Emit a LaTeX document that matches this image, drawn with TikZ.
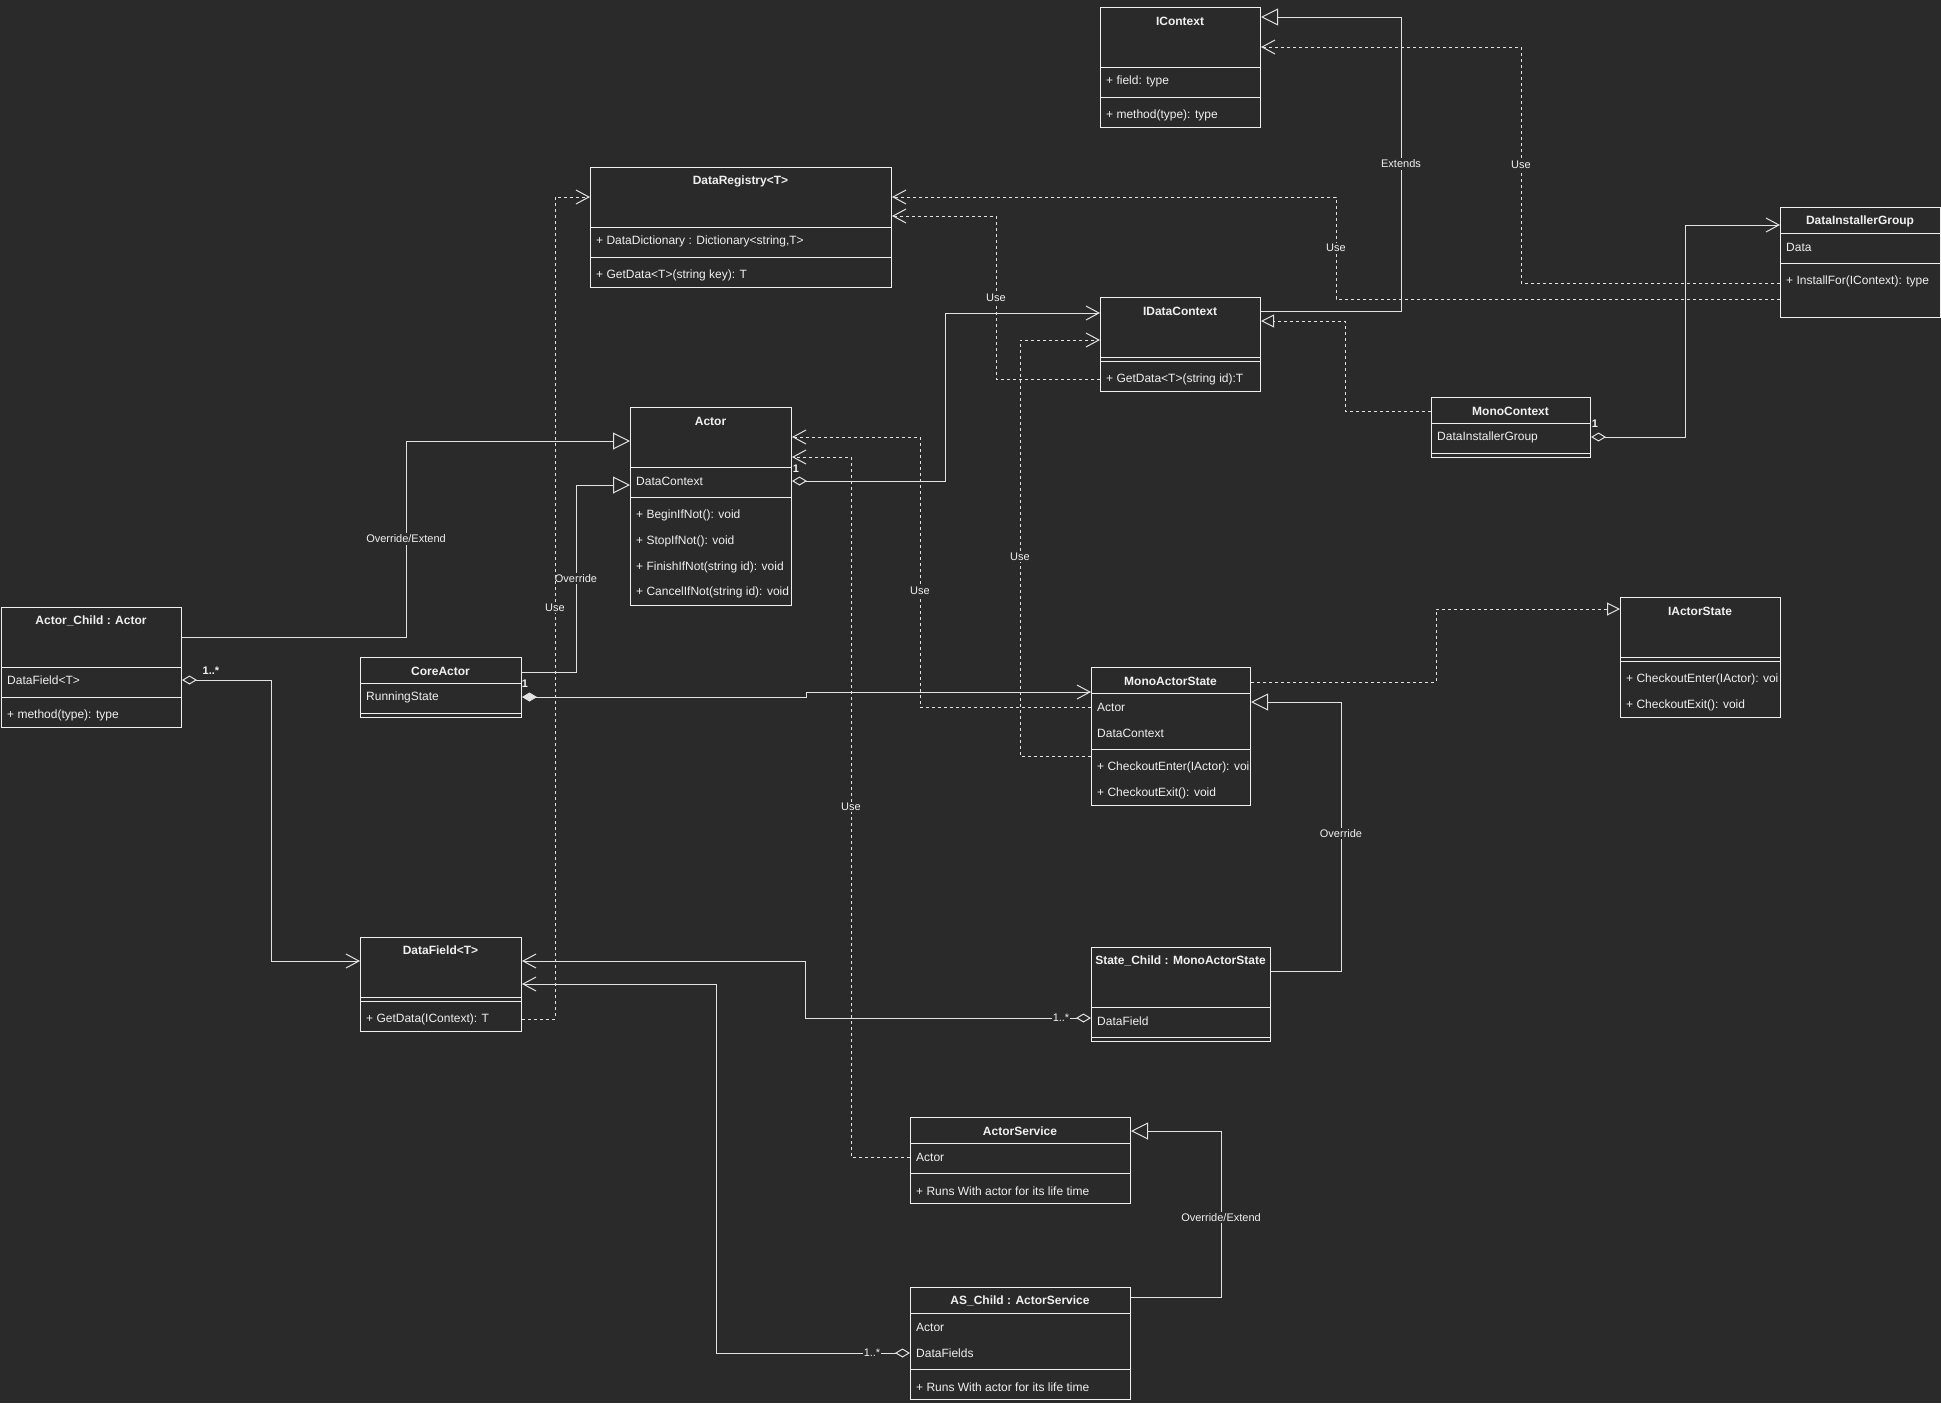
\documentclass[tikz,border=0pt]{standalone}
\usepackage{fontspec}
\setmainfont{Liberation Sans}
\usetikzlibrary{arrows.meta, positioning}

\definecolor{bg}{HTML}{2A2A2A}
\definecolor{fg}{HTML}{F0F0F0}
\definecolor{lc}{HTML}{E2E2E2}

\tikzset{
  box/.style={draw=fg, line width=1pt, inner sep=0pt, anchor=north west},
  sep/.style={draw=fg, line width=1pt},
  ttl/.style={text=fg, inner sep=0pt, font=\fontsize{12}{14}\selectfont\bfseries},
  fld/.style={text=fg, inner sep=0pt, anchor=west, font=\fontsize{12}{14}\selectfont},
  lbl/.style={text=fg, fill=bg, inner sep=1.5pt, font=\fontsize{11}{13}\selectfont},
  mult/.style={text=fg, inner sep=0.5pt, font=\fontsize{11}{13}\selectfont\bfseries},
  link/.style={draw=lc, line width=1pt},
  assoc/.style={link, -{Straight Barb[length=13pt,width=14pt]}},
  dep/.style={assoc, dash pattern=on 3pt off 3pt},
  gen/.style={link, -{Triangle[open,length=17pt,width=17pt]}},
  real/.style={link, dash pattern=on 3pt off 3pt, -{Triangle[open,length=13pt,width=13pt]}},
  agg/.style={link, {Diamond[open,length=15pt,width=9pt]}-{Straight Barb[length=13pt,width=14pt]}},
  comp/.style={link, {Diamond[length=15pt,width=9pt]}-{Straight Barb[length=13pt,width=14pt]}},
}

\begin{document}
\begin{tikzpicture}[x=1pt, y=-1pt]
  % Achtergrond
  \fill[bg] (0,0) rectangle (1941,1403);
  \useasboundingbox (0,0) rectangle (1941,1403);

  % IContext
  \node[box, minimum width=160pt, minimum height=120pt] (ictx) at (1100,7) {};
  \draw[sep] (1100,67) -- ++(160,0) (1100,97) -- ++(160,0);
  \node[ttl] (ictxT) at (1180,21) {IContext};
  \node[fld] (ictxF) at (1106,81) {+ field: type};
  \node[fld] (ictxM) at (1106,115) {+ method(type): type};

  % DataRegistry
  \node[box, minimum width=301pt, minimum height=120pt] (dreg) at (590,167) {};
  \draw[sep] (590,227) -- ++(301,0) (590,257) -- ++(301,0);
  \node[ttl] (dregT) at (740.5,181) {DataRegistry<T>};
  \node[fld] (dregF) at (596,241) {+ DataDictionary : Dictionary<string,T>};
  \node[fld] (dregM) at (596,275) {+ GetData<T>(string key): T};

  % IDataContext
  \node[box, minimum width=160pt, minimum height=94pt] (idc) at (1100,297) {};
  \draw[sep] (1100,357) -- ++(160,0) (1100,361) -- ++(160,0);
  \node[ttl] (idcT) at (1180,311) {IDataContext};
  \node[fld] (idcM) at (1106,379) {+ GetData<T>(string id):T};

  % DataInstallerGroup
  \node[box, minimum width=160pt, minimum height=110pt] (dig) at (1780,207) {};
  \draw[sep] (1780,233) -- ++(160,0) (1780,263) -- ++(160,0);
  \node[ttl] (digT) at (1860,221) {DataInstallerGroup};
  \node[fld] (digF) at (1786,247) {Data};
  \node[fld] (digM) at (1786,281) {+ InstallFor(IContext): type};

  % MonoContext
  \node[box, minimum width=159pt, minimum height=60pt] (monoctx) at (1431,397) {};
  \draw[sep] (1431,423) -- ++(159,0) (1431,453) -- ++(159,0);
  \node[ttl] (monoctxT) at (1510.5,411) {MonoContext};
  \node[fld] (monoctxF) at (1437,437) {DataInstallerGroup};

  % Actor
  \node[box, minimum width=161pt, minimum height=198pt] (actor) at (630,407) {};
  \draw[sep] (630,467) -- ++(161,0) (630,497) -- ++(161,0);
  \node[ttl] (actorT) at (710.5,421) {Actor};
  \node[fld] (actorF) at (636,481) {DataContext};
  \foreach \y/\t [count=\i] in {515/{+ BeginIfNot(): void}, 541/{+ StopIfNot(): void},
      567/{+ FinishIfNot(string id): void}, 592/{+ CancelIfNot(string id): void}}
    \node[fld] (actorM\i) at (636,\y) {\t};

  % Actor_Child
  \node[box, minimum width=180pt, minimum height=120pt] (achild) at (1,607) {};
  \draw[sep] (1,667) -- ++(180,0) (1,697) -- ++(180,0);
  \node[ttl] (achildT) at (91,621) {Actor\_Child : Actor};
  \node[fld] (achildF) at (7,680) {DataField<T>};
  \node[fld] (achildM) at (7,715) {+ method(type): type};

  % CoreActor
  \node[box, minimum width=161pt, minimum height=60pt] (core) at (360,657) {};
  \draw[sep] (360,683) -- ++(161,0) (360,713) -- ++(161,0);
  \node[ttl] (coreT) at (440.5,671) {CoreActor};
  \node[fld] (coreF) at (366,697) {RunningState};

  % DataField
  \node[box, minimum width=161pt, minimum height=94pt] (dfield) at (360,937) {};
  \draw[sep] (360,997) -- ++(161,0) (360,1001) -- ++(161,0);
  \node[ttl] (dfieldT) at (440.5,950) {DataField<T>};
  \node[fld] (dfieldM) at (366,1019) {+ GetData(IContext): T};

  % MonoActorState
  \node[box, minimum width=159pt, minimum height=138pt] (mas) at (1091,667) {};
  \draw[sep] (1091,693) -- ++(159,0) (1091,749) -- ++(159,0);
  \node[ttl] (masT) at (1170.5,681) {MonoActorState};
  \node[fld] (masF1) at (1097,707) {Actor};
  \node[fld] (masF2) at (1097,733) {DataContext};
  \node[fld] (masM1) at (1097,767) {+ CheckoutEnter(IActor): voi};
  \node[fld] (masM2) at (1097,793) {+ CheckoutExit(): void};

  % IActorState
  \node[box, minimum width=160pt, minimum height=120pt] (ias) at (1620,597) {};
  \draw[sep] (1620,657) -- ++(160,0) (1620,661) -- ++(160,0);
  \node[ttl] (iasT) at (1700,611) {IActorState};
  \node[fld] (iasM1) at (1626,679) {+ CheckoutEnter(IActor): voi};
  \node[fld] (iasM2) at (1626,705) {+ CheckoutExit(): void};

  % State_Child
  \node[box, minimum width=179pt, minimum height=94pt] (schild) at (1091,947) {};
  \draw[sep] (1091,1007) -- ++(179,0) (1091,1037) -- ++(179,0);
  \node[ttl] (schildT) at (1180.5,961) {State\_Child : MonoActorState};
  \node[fld] (schildF) at (1097,1021) {DataField};

  % ActorService
  \node[box, minimum width=220pt, minimum height=86pt] (asvc) at (910,1117) {};
  \draw[sep] (910,1143) -- ++(220,0) (910,1173) -- ++(220,0);
  \node[ttl] (asvcT) at (1020,1131) {ActorService};
  \node[fld] (asvcF) at (916,1157) {Actor};
  \node[fld] (asvcM) at (916,1191) {+ Runs With actor for its life time};

  % AS_Child
  \node[box, minimum width=220pt, minimum height=112pt] (aschild) at (910,1287) {};
  \draw[sep] (910,1313) -- ++(220,0) (910,1369) -- ++(220,0);
  \node[ttl] (aschildT) at (1020,1301) {AS\_Child : ActorService};
  \node[fld] (aschildF1) at (916,1327) {Actor};
  \node[fld] (aschildF2) at (916,1353) {DataFields};
  \node[fld] (aschildM) at (916,1387) {+ Runs With actor for its life time};

  % Overerving
  \draw[gen] ([yshift=-14pt]idc.north east) -| node[lbl, pos=0.75] {Extends} (1401,17)
    -- ([yshift=-10pt]ictx.north east);
  \draw[gen] ([yshift=-30pt]achild.north east) -| node[lbl, pos=0.75] {Override/Extend} (406,441)
    -- ([yshift=-34pt]actor.north west);
  \draw[gen] ([yshift=-15pt]core.north east) -| node[lbl, pos=0.75] {Override} (576,485)
    -- ([yshift=-78pt]actor.north west);
  \draw[gen] ([yshift=-24pt]schild.north east) -| node[lbl, pos=0.755] {Override} (1341,702)
    -- ([yshift=-35pt]mas.north east);
  \draw[gen] ([yshift=-10pt]aschild.north east) -| node[lbl, pos=0.74] {Override/Extend} (1221,1131)
    -- ([yshift=-14pt]asvc.north east);

  % Realisatie
  \draw[real] ([yshift=-14pt]monoctx.north west) -| (1345,321) -- ([yshift=-24pt]idc.north east);
  \draw[real] ([yshift=-15pt]mas.north east) -| (1436,609) -- ([yshift=-12pt]ias.north west);

  % Use
  \draw[dep] ([yshift=-76pt]dig.north west) -| node[lbl, pos=0.75] {Use} (1521,47)
    -- ([yshift=-40pt]ictx.north east);
  \draw[dep] ([yshift=-92pt]dig.north west) -| node[lbl, pos=0.75] {Use} (1336,197)
    -- ([yshift=-30pt]dreg.north east);
  \draw[dep] ([yshift=-82pt]idc.north west) -| node[lbl, pos=0.75] {Use} (996,216)
    -- ([yshift=-49pt]dreg.north east);
  \draw[dep] ([yshift=-89pt]mas.north west) -| node[lbl, pos=0.74] {Use} (1020,340)
    -- ([yshift=-43pt]idc.north west);
  \draw[dep] ([yshift=-40pt]mas.north west) -| node[lbl, pos=0.715] {Use} (920,437)
    -- ([yshift=-30pt]actor.north east);
  \draw[dep] ([yshift=-40pt]asvc.north west) -| node[lbl, pos=0.75] {Use} (851,457)
    -- ([yshift=-50pt]actor.north east);
  \draw[dep] ([yshift=-82pt]dfield.north east) -| node[lbl, pos=0.75] {Use} (555,197)
    -- ([yshift=-30pt]dreg.north west);

  % Aggregatie / compositie
  \draw[agg] ([yshift=-74pt]actor.north east) -| (945,313) -- ([yshift=-16pt]idc.north west);
  \draw[agg] ([yshift=-40pt]monoctx.north east) -| (1685,225) -- ([yshift=-18pt]dig.north west);
  \draw[agg] ([yshift=-73pt]achild.north east) -| (271,961) -- ([yshift=-24pt]dfield.north west);
  \draw[agg] ([yshift=-71pt]schild.north west) -| (805,961) -- ([yshift=-24pt]dfield.north east);
  \draw[agg] ([yshift=-66pt]aschild.north west) -| (716,984) -- ([yshift=-47pt]dfield.north east);
  \draw[comp] ([yshift=-40pt]core.north east) -- (806,697) -- (806,692) -- ([yshift=-25pt]mas.north west);

  % Multipliciteit
  \node[mult] (m1) at (796,469) {1};
  \node[mult] (m2) at (1595,424) {1};
  \node[mult] (m3) at (525,684) {1};
  \node[mult] (m4) at (211,671) {1..*};
  \node[mult, fill=bg, font=\fontsize{11}{13}\selectfont] (m5) at (1061,1018) {1..*};
  \node[mult, fill=bg, font=\fontsize{11}{13}\selectfont] (m6) at (872,1353) {1..*};
\end{tikzpicture}
\end{document}
